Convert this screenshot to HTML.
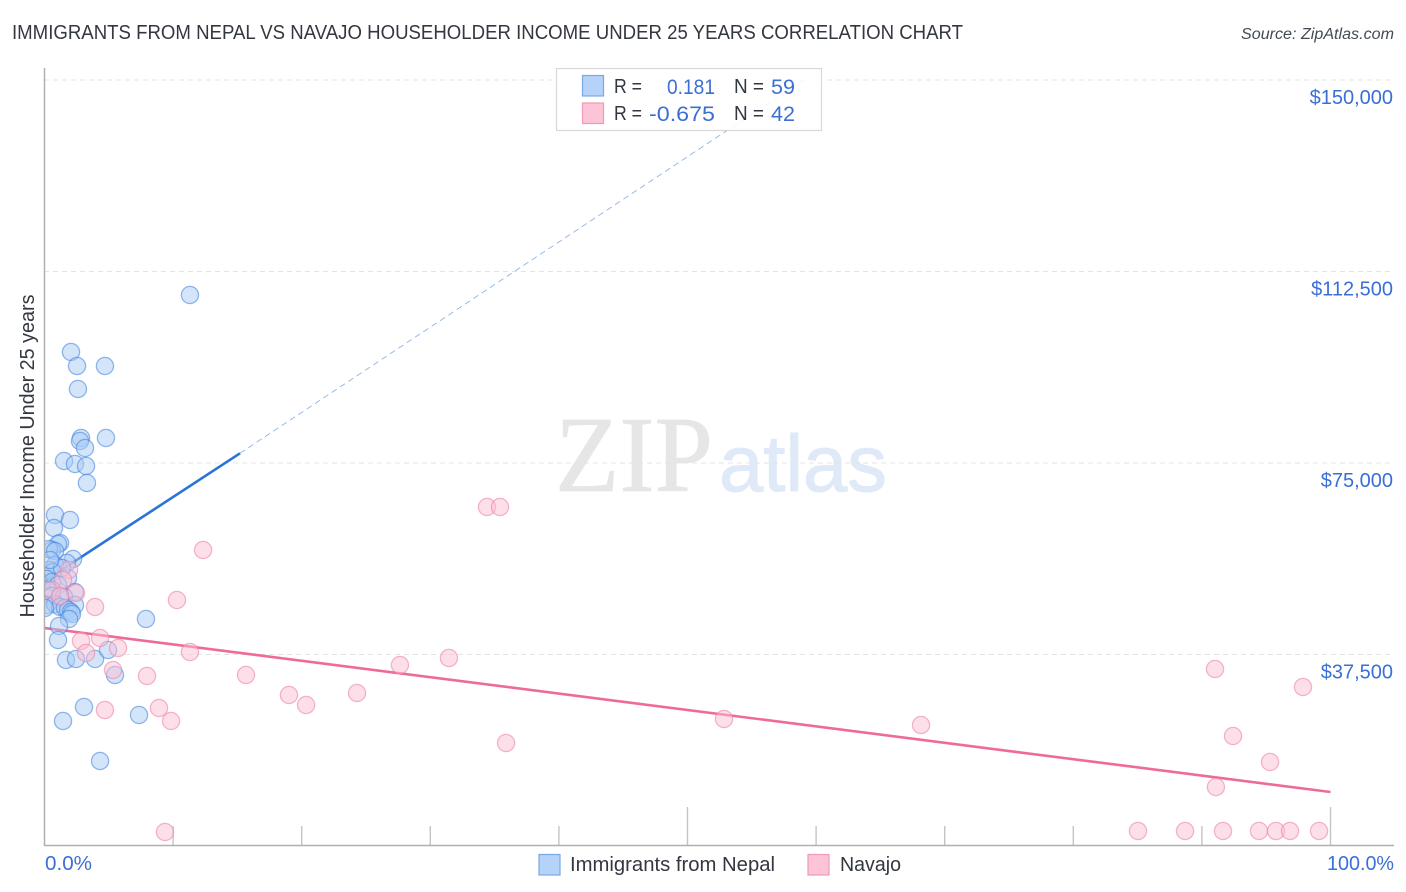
<!DOCTYPE html>
<html lang="en">
<head>
<meta charset="utf-8">
<title>Immigrants from Nepal vs Navajo Householder Income Under 25 Years Correlation Chart</title>
<style>
html,body{margin:0;padding:0;background:#fff;width:1406px;height:892px;overflow:hidden}
svg{display:block;font-family:"Liberation Sans",Arial,sans-serif}
</style>
</head>
<body>
<svg id="chart" width="1406" height="892" viewBox="0 0 1406 892" xmlns="http://www.w3.org/2000/svg">
  <defs>
    <clipPath id="plot-clip"><rect x="45" y="0" width="1361" height="892"/></clipPath>
  </defs>
  <rect x="0" y="0" width="1406" height="892" fill="#fff"/>
  <text x="12" y="39" font-size="20" fill="#33373f" textLength="951" lengthAdjust="spacingAndGlyphs">IMMIGRANTS FROM NEPAL VS NAVAJO HOUSEHOLDER INCOME UNDER 25 YEARS CORRELATION CHART</text>
  <text x="1394" y="39" font-size="15.5" font-style="italic" fill="#444a54" text-anchor="end" textLength="153" lengthAdjust="spacingAndGlyphs">Source: ZipAtlas.com</text>

  <g id="watermark">
    <text x="555" y="491" font-family="'Liberation Serif',serif" font-size="108" fill="#e6e6e6" stroke="#e6e6e6" stroke-width="0.8" textLength="158" lengthAdjust="spacingAndGlyphs">ZIP</text>
    <text x="719" y="491" font-size="80" fill="#dfe9f8" stroke="#dfe9f8" stroke-width="1" textLength="168" lengthAdjust="spacingAndGlyphs">atlas</text>
  </g>

  <g id="grid"></g>
  <g id="ticks"></g>

  <g id="trend-lines" clip-path="url(#plot-clip)"></g>
  <g id="points-blue" clip-path="url(#plot-clip)"></g>
  <g id="points-pink" clip-path="url(#plot-clip)"></g>
  <g id="y-labels"></g>

  <line x1="44.5" y1="68" x2="44.5" y2="846" stroke="#b0b0b0" stroke-width="1.5"/>
  <line x1="44" y1="845.5" x2="1394" y2="845.5" stroke="#b0b0b0" stroke-width="1.5"/>

  <text transform="translate(34 456) rotate(-90)" font-size="20" fill="#33373f" text-anchor="middle" textLength="323" lengthAdjust="spacingAndGlyphs">Householder Income Under 25 years</text>
  <text id="x-min" x="45" y="870" font-size="20" fill="#3b6fd6" textLength="47" lengthAdjust="spacingAndGlyphs"></text>
  <text id="x-max" x="1394" y="870" font-size="20" fill="#3b6fd6" text-anchor="end" textLength="67" lengthAdjust="spacingAndGlyphs"></text>

  <g>
    <rect x="556.5" y="68.5" width="265" height="62" fill="#fff" fill-opacity="0.88" stroke="#d8d8d8" stroke-width="1.2"/>
    <rect x="582.5" y="75.5" width="21" height="20.5" fill="#b5d2f8" stroke="#7aa8e4" stroke-width="1.2"/>
    <rect x="582.5" y="103" width="21" height="20.5" fill="#fcc4d6" stroke="#f09ab6" stroke-width="1.2"/>
    <text x="614" y="93" font-size="20" fill="#33373f" textLength="28" lengthAdjust="spacingAndGlyphs">R =</text>
    <text x="715" y="94" font-size="21.5" fill="#3b6fd6" text-anchor="end" textLength="48" lengthAdjust="spacingAndGlyphs">0.181</text>
    <text x="734" y="93" font-size="20" fill="#33373f" textLength="30" lengthAdjust="spacingAndGlyphs">N =</text>
    <text x="771" y="94" font-size="21.5" fill="#3b6fd6" textLength="24" lengthAdjust="spacingAndGlyphs">59</text>
    <text x="614" y="120" font-size="20" fill="#33373f" textLength="28" lengthAdjust="spacingAndGlyphs">R =</text>
    <text x="715" y="121" font-size="21.5" fill="#3b6fd6" text-anchor="end" textLength="66" lengthAdjust="spacingAndGlyphs">-0.675</text>
    <text x="734" y="120" font-size="20" fill="#33373f" textLength="30" lengthAdjust="spacingAndGlyphs">N =</text>
    <text x="771" y="121" font-size="21.5" fill="#3b6fd6" textLength="24" lengthAdjust="spacingAndGlyphs">42</text>
  </g>

  <g>
    <rect x="539" y="854.5" width="21" height="20.5" fill="#b5d2f8" stroke="#7aa8e4" stroke-width="1.2"/>
    <text x="570" y="871" font-size="20" fill="#33373f" textLength="205" lengthAdjust="spacingAndGlyphs">Immigrants from Nepal</text>
    <rect x="808" y="854.5" width="21" height="20.5" fill="#fcc4d6" stroke="#f09ab6" stroke-width="1.2"/>
    <text x="840" y="871" font-size="20" fill="#33373f" textLength="61" lengthAdjust="spacingAndGlyphs">Navajo</text>
  </g>
</svg>
<script>
var yTickValues = [150000, 112500, 75000, 37500];
var yTickLabels = ["$150,000", "$112,500", "$75,000", "$37,500"];
var xTickValues = [10, 20, 30, 40, 50, 60, 70, 80, 90, 100];
var xMajorTicks = [50, 100];
var xRangeLabels = ["0.0%", "100.0%"];

var nepalPct = [11.31,2.06,2.53,4.70,2.60,2.84,2.76,4.78,3.15,1.52,2.37,3.23,3.30,0.82,1.98,0.74,1.21,1.05,0.58,0.35,0.82,2.22,1.75,0.82,0.43,0.66,1.83,0.19,0.58,1.05,0.27,2.37,0.58,1.21,1.52,0.19,0.82,2.37,1.21,1.59,1.83,2.06,2.14,1.91,7.89,1.13,1.05,1.67,2.45,3.93,4.94,5.48,3.07,1.44,7.35,4.32,0.04,1.36,0.43];
var nepalIncome = [107897,96735,93994,93994,89490,79895,79307,79895,77936,75391,74803,74412,71083,64816,63837,62271,59333,59138,57963,58159,57767,56200,55417,55025,54046,53655,52480,52284,51696,51109,50130,49738,48955,48759,48759,47193,47388,47193,46801,46605,46214,45822,45430,44451,44451,43080,40339,36423,36618,36618,38381,33485,27219,24478,25652,16645,46605,54438,56005];

var navajoPct = [9.37,11.31,9.84,8.90,4.70,15.67,19.01,20.34,24.30,27.64,31.45,34.41,35.42,35.89,52.84,68.16,91.02,97.86,92.42,95.30,91.09,85.03,88.69,91.64,94.44,95.76,96.85,99.11,12.33,10.30,3.93,2.84,4.32,5.72,3.23,5.33,7.97,2.45,1.91,1.44,0.58,1.21];
var navajoIncome = [2741,37989,24478,27023,26632,33485,29569,27611,29960,35443,36814,66383,66383,20169,24869,23694,34660,31135,21540,16449,11553,2937,2937,2937,2937,2937,2937,2937,57963,48172,46801,40143,40731,38772,37793,34464,33289,49543,54046,52088,50130,48955];

var nepalTrendPct = [0, 15.2, 59];
var nepalTrendIncome = [51890, 76900, 150000];
var navajoTrendPct = [0, 100];
var navajoTrendIncome = [42690, 10575];

var NS = "http://www.w3.org/2000/svg";
function xScale(p) { return 44.5 + p * 12.86; }
function yScale(v) { return 846 - v * 191.5 / 37500; }
function make(tag, attrs, parentId) {
  var el = document.createElementNS(NS, tag);
  for (var k in attrs) el.setAttribute(k, attrs[k]);
  document.getElementById(parentId).appendChild(el);
  return el;
}

yTickValues.forEach(function (v, i) {
  var g = make("line", {x1: 44, x2: 1394, y1: yScale(v), y2: yScale(v), stroke: "#e4e4e4", "stroke-width": 1, "stroke-dasharray": "5 4"}, "grid");
  
  
  var t = make("text", {x: 1393, y: yScale(v) + 24, "font-size": 20, fill: "#3b6fd6", "text-anchor": "end"}, "y-labels");
  t.textContent = yTickLabels[i];
  
  
});

xTickValues.forEach(function (p) {
  var top = xMajorTicks.indexOf(p) >= 0 ? 807 : 826;
  var l = make("line", {x1: xScale(p), x2: xScale(p), y1: top, y2: 845, stroke: "#c4c4c4", "stroke-width": 1.4}, "ticks");
  
  
});

document.getElementById("x-min").textContent = xRangeLabels[0];
document.getElementById("x-max").textContent = xRangeLabels[1];

var blueSolid = make("line", {x1: xScale(nepalTrendPct[0]), y1: yScale(nepalTrendIncome[0]), x2: xScale(nepalTrendPct[1]), y2: yScale(nepalTrendIncome[1]), stroke: "#2a74d8", "stroke-width": 2.6}, "trend-lines");


var blueDash = make("line", {x1: xScale(nepalTrendPct[1]), y1: yScale(nepalTrendIncome[1]), x2: xScale(nepalTrendPct[2]), y2: yScale(nepalTrendIncome[2]), stroke: "#8fb4e8", "stroke-width": 0.9, "stroke-dasharray": "6 4"}, "trend-lines");


var pinkSolid = make("line", {x1: xScale(navajoTrendPct[0]), y1: yScale(navajoTrendIncome[0]), x2: xScale(navajoTrendPct[1]), y2: yScale(navajoTrendIncome[1]), stroke: "#ee6a9a", "stroke-width": 2.6}, "trend-lines");



nepalPct.forEach(function (p, i) {
  var c = make("circle", {cx: xScale(p), cy: yScale(nepalIncome[i]), r: 8.6, fill: "#a9cbf5", "fill-opacity": 0.5, stroke: "#3d7fdc", "stroke-opacity": 0.55, "stroke-width": 1.3}, "points-blue");
  
  
});
navajoPct.forEach(function (p, i) {
  var c = make("circle", {cx: xScale(p), cy: yScale(navajoIncome[i]), r: 8.6, fill: "#f9c0d4", "fill-opacity": 0.5, stroke: "#ee86a9", "stroke-opacity": 0.6, "stroke-width": 1.3}, "points-pink");
  
  
});
</script>
</body>
</html>
